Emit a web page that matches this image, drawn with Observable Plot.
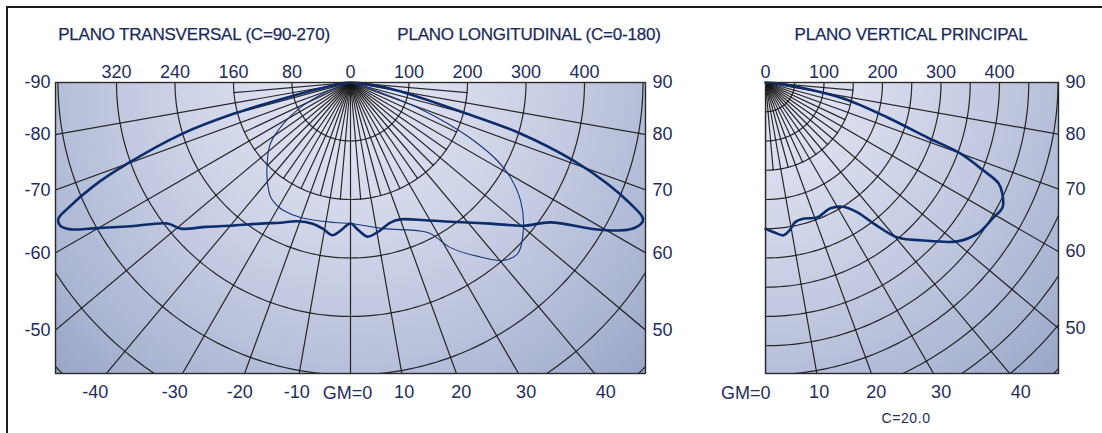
<!DOCTYPE html>
<html><head><meta charset="utf-8">
<script src="https://cdn.jsdelivr.net/npm/d3@7"></script>
<script src="https://cdn.jsdelivr.net/npm/@observablehq/plot@0.6"></script>
<style>
body{margin:0;background:#fff;}
#wrap{position:relative;width:1102px;height:433px;overflow:hidden;font-family:"Liberation Sans",Arial,sans-serif;background:#fff;}
.border{position:absolute;left:6px;top:6px;width:1300px;height:700px;border:2.5px solid #1c1c1c;box-sizing:border-box;}
.title{position:absolute;top:35px;font-size:17px;color:#1b2a5c;white-space:nowrap;transform:translate(-50%,-50%);letter-spacing:-0.2px;-webkit-text-stroke:0.25px #1b2a5c;}
.cap{position:absolute;top:418px;font-size:14px;color:#1e2c5e;letter-spacing:0.6px;white-space:nowrap;transform:translate(-50%,-50%);}
.pl{position:absolute;top:0;}
</style></head><body>
<div id="wrap">
  <div class="border"></div>
  <div class="title" style="left:194px">PLANO TRANSVERSAL (C=90-270)</div>
  <div class="title" style="left:529px">PLANO LONGITUDINAL (C=0-180)</div>
  <div class="title" style="left:911px">PLANO VERTICAL PRINCIPAL</div>
  <div class="cap" style="left:906px">C=20.0</div>
  <div class="pl" id="left" style="left:0;width:700px"></div>
  <div class="pl" id="right" style="left:700px;width:402px"></div>
</div>
<script>
// ---- data: gamma angle (deg from nadir) and luminous intensity (cd) ----
const transGamma = [-90,-85,-80,-77,-75,-73,-70,-68,-66,-65,-63.7,-62.3,-60.4,-56.8,-52.4,-49.3,-45,-39.3,-32.5,-26.6,-20.9,-15,-10.9,-6.7,-3.9,0,3.1,6.3,10.2,15.9,20,28.5,35.7,44.8,50.4,55,59.5,62.3,64.4,65.2,66.6,68.5,70.7,73.3,75.1,79.1,82.4,86,90];
const transCd    = [0,12,32,100,207,303,406,475,529,551,553,540,505,449,395,383,349,316,286,268,254,250,254,263,254,241,253,265,260,249,249,268,293,340,384,417,496,540,553,550,521,472,404,303,200,99,52,15,0];

const longGamma = [-74,-68,-63.4,-58.5,-52.7,-46.8,-40.3,-34.8,-30.7,-27.6,-20.3,-6.9,0,12.7,24.4,27.9,31.2,37.2,40.7,44.3,50,55.2,59.3,62,64.8,67.1,69.5,71.6,73,75];
const longCd    = [0,50,96,134,172,195,220,239,245,247,246,241,241,256,278,292,330,376,401,409,386,354,318,284,232,180,122,59,18,0];

const vertGamma = [0,3.5,6.7,9.5,12,16,21,27.3,31.8,35.3,37.5,40.4,44.5,50.4,54.5,59.4,62.2,64.9,66.6,68,70,71.2,74,78.4,81.9,86,90];
const vertCd    = [250,257,263,255,244,242,247,242,250,272,304,348,378,426,445,453,458,447,434,402,355,293,217,136,60,15,0];

// ---- tick labels ----
const topLabelsLeft  = ["320","240","160","80"];
const topLabelsRight = ["0","100","200","300","400"];
const sideLabelsLeft  = [-90,-80,-70,-60,-50];
const sideLabelsRight = [90,80,70,60,50];
const bottomLabelsL = [-40,-30,-20,-10,10,20,30,40];
const bottomLabelsR = [10,20,30,40];
const gmLabel = "GM=0";

// ---- layout constants ----
const K = 0.585;            // px per cd
const NAVY = "#1e2c5e";
const FONT = "Liberation Sans, Arial, sans-serif";
const LABEL_DEPTH = 520;    // cd depth at which bottom angle labels sit

const rad = g => g * Math.PI / 180;
const polar = (g, r) => ({x: r * Math.sin(rad(g)), y: r * Math.cos(rad(g))});
const curvePts = (gs, cs) => gs.map((g, i) => polar(g, cs[i]));
function arcPts(step, max, g0, g1) {
  const pts = [];
  for (let r = step; r <= max; r += step)
    for (let g = g0; g <= g1; g += 1) pts.push({...polar(g, r), k: r});
  return pts;
}
const radialPts = (angles, len) => angles.flatMap(g => [{x: 0, y: 0, k: g}, {...polar(g, len), k: g}]);

function addGradient(svg, id) {
  const cx = svg.scale("x").apply(0), cy = svg.scale("y").apply(0);
  const ns = "http://www.w3.org/2000/svg";
  const defs = document.createElementNS(ns, "defs");
  defs.innerHTML = `<radialGradient id="${id}" gradientUnits="userSpaceOnUse" cx="${cx}" cy="${cy}" r="420">
    <stop offset="0" stop-color="#e6e8f4"/>
    <stop offset="0.38" stop-color="#cfd4e8"/>
    <stop offset="0.69" stop-color="#b6bfd9"/>
    <stop offset="0.81" stop-color="#abb6d2"/>
    <stop offset="1" stop-color="#97a4c5"/></radialGradient>`;
  svg.insertBefore(defs, svg.firstChild);
}

const gridStyle = {x: "x", y: "y", z: "k", stroke: "#141414", strokeWidth: 1.2, strokeOpacity: 0.9, clip: true};
const axisStyle = {tickSize: 0, color: NAVY, fill: NAVY, fontSize: 18, label: null};

// ---------- left panel ----------
{
  const W = 700, mL = 55, mR = 55, mT = 82, mB = 60;
  const halfW = (W - mL - mR) / 2 / K;
  const yMax = (433 - mT - mB) / K;
  const topPos = [...topLabelsLeft.map((l, i) => -(topLabelsLeft.length - i) * 100), ...topLabelsRight.map((l, i) => i * 100)];
  const topLab = [...topLabelsLeft, ...topLabelsRight];
  const topMap = new Map(topPos.map((p, i) => [p, topLab[i]]));
  const sidePosL = sideLabelsLeft.map(g => halfW / Math.tan(rad(Math.abs(g))));
  const sideMapL = new Map(sidePosL.map((p, i) => [p, String(sideLabelsLeft[i])]));
  const sidePosR = sideLabelsRight.map(g => halfW / Math.tan(rad(g)));
  const sideMapR = new Map(sidePosR.map((p, i) => [p, String(sideLabelsRight[i])]));
  const botPos = bottomLabelsL.map(g => LABEL_DEPTH * Math.tan(rad(g)));
  const botMap = new Map(botPos.map((p, i) => [p, String(bottomLabelsL[i])]));

  const svg = Plot.plot({
    width: W, height: 433, marginLeft: mL, marginRight: mR, marginTop: mT, marginBottom: mB,
    x: {domain: [-halfW, halfW], axis: null},
    y: {domain: [0, yMax], reverse: true, axis: null},
    style: {fontFamily: FONT, fontSize: "18px", color: NAVY, background: "transparent", overflow: "visible"},
    marks: [
      Plot.frame({fill: "url(#bgL)"}),
      Plot.line(arcPts(100, 700, -90, 90), gridStyle),
      Plot.line(radialPts(d3.range(-90, 91, 10), 1200), gridStyle),
      Plot.line(radialPts(d3.range(-85, 90, 10), 200), gridStyle),
      Plot.line(curvePts(longGamma, longCd), {x: "x", y: "y", curve: "catmull-rom", stroke: "#1b3577", strokeWidth: 1.1}),
      Plot.line(curvePts(transGamma, transCd), {x: "x", y: "y", curve: "catmull-rom", stroke: "#0c2c6b", strokeWidth: 2.6}),
      Plot.frame({stroke: "#2a2a2a", strokeWidth: 1.4}),
      Plot.axisX(topPos, {...axisStyle, anchor: "top", tickPadding: 5, tickFormat: d => topMap.get(d)}),
      Plot.axisY(sidePosL, {...axisStyle, anchor: "left", tickPadding: 5, tickFormat: d => sideMapL.get(d)}),
      Plot.axisY(sidePosR, {...axisStyle, anchor: "right", tickPadding: 7, tickFormat: d => sideMapR.get(d)}),
      Plot.axisX(botPos, {...axisStyle, anchor: "bottom", tickPadding: 12, tickFormat: d => botMap.get(d)}),
      Plot.text([gmLabel], {x: [0], text: d => d, frameAnchor: "bottom", dy: 25, dx: -3, fill: NAVY, fontSize: 18})
    ]
  });
  addGradient(svg, "bgL");
  document.getElementById("left").appendChild(svg);
}

// ---------- right panel ----------
{
  const W = 402, mL = 65, mR = 44, mT = 82, mB = 60;
  const wDom = (W - mL - mR) / K;
  const yMax = (433 - mT - mB) / K;
  const topPos = topLabelsRight.map((l, i) => i * 100);
  const topMap = new Map(topPos.map((p, i) => [p, topLabelsRight[i]]));
  const sidePos = sideLabelsRight.map(g => wDom / Math.tan(rad(g)));
  const sideMap = new Map(sidePos.map((p, i) => [p, String(sideLabelsRight[i])]));
  const botPos = bottomLabelsR.map(g => LABEL_DEPTH * Math.tan(rad(g)));
  const botMap = new Map(botPos.map((p, i) => [p, String(bottomLabelsR[i])]));

  const svg = Plot.plot({
    width: W, height: 433, marginLeft: mL, marginRight: mR, marginTop: mT, marginBottom: mB,
    x: {domain: [0, wDom], axis: null},
    y: {domain: [0, yMax], reverse: true, axis: null},
    style: {fontFamily: FONT, fontSize: "18px", color: NAVY, background: "transparent", overflow: "visible"},
    marks: [
      Plot.frame({fill: "url(#bgR)"}),
      Plot.line(arcPts(50, 700, 0, 90), gridStyle),
      Plot.line(radialPts(d3.range(0, 91, 10), 1200), gridStyle),
      Plot.line(radialPts(d3.range(5, 90, 10), 150), gridStyle),
      Plot.line(curvePts(vertGamma, vertCd), {x: "x", y: "y", curve: "catmull-rom", stroke: "#0c2c6b", strokeWidth: 2.6}),
      Plot.frame({stroke: "#2a2a2a", strokeWidth: 1.4}),
      Plot.axisX(topPos, {...axisStyle, anchor: "top", tickPadding: 5, tickFormat: d => topMap.get(d)}),
      Plot.axisY(sidePos, {...axisStyle, anchor: "right", tickPadding: 7, tickFormat: d => sideMap.get(d)}),
      Plot.axisX(botPos, {...axisStyle, anchor: "bottom", tickPadding: 12, tickFormat: d => botMap.get(d)}),
      Plot.text([gmLabel], {x: [0], text: d => d, frameAnchor: "bottom", dy: 25, dx: 5, textAnchor: "end", fill: NAVY, fontSize: 18})
    ]
  });
  addGradient(svg, "bgR");
  document.getElementById("right").appendChild(svg);
}
</script>
</body></html>
